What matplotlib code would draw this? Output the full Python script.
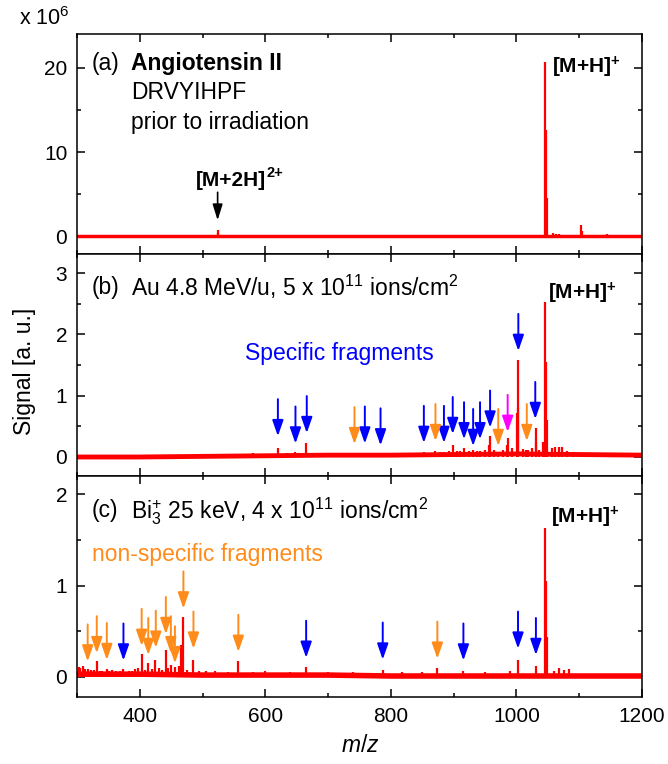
import matplotlib
matplotlib.use("Agg")
import matplotlib.pyplot as plt
from matplotlib.ticker import MultipleLocator

plt.rcParams['font.family'] = ['Liberation Sans', 'DejaVu Sans']
plt.rcParams['mathtext.fontset'] = 'custom'
plt.rcParams['mathtext.rm'] = 'Liberation Sans'
plt.rcParams['mathtext.it'] = 'Liberation Sans:italic'
plt.rcParams['mathtext.bf'] = 'Liberation Sans:bold'
plt.rcParams['mathtext.default'] = 'regular'

# ===== data =====
# baseline level of each spectrum (m/z grid)
base_mz = [300, 400, 500, 600, 700, 800, 900, 1000, 1100, 1200]
base_a = [0.0, 0.0, 0.0, 0.0, 0.0, 0.0, 0.0, 0.0, 0.0, 0.0]
base_b = [0.0, 0.0, 0.01, 0.02, 0.03, 0.03, 0.04, 0.05, 0.04, 0.03]
base_c = [0.03, 0.03, 0.02, 0.02, 0.02, 0.01, 0.01, 0.01, 0.01, 0.01]

# (a) prior to irradiation, x10^6
peaks_a_mz = [524, 525, 700, 820, 960, 1010, 1046, 1047, 1048, 1058, 1063, 1068, 1103, 1104, 1145]
peaks_a_h = [0.7, 0.35, 0.15, 0.1, 0.2, 0.2, 20.7, 12.6, 4.6, 0.4, 0.3, 0.25, 1.3, 0.6, 0.3]

# (b) Au 4.8 MeV/u
peaks_b_mz = [480, 520, 545, 560, 580, 600, 620.5, 635, 648, 665, 680, 700, 720, 743, 759, 770, 784,
              798, 810, 830, 845, 853, 860, 871, 878, 885, 892, 898.5, 905, 910, 916.5, 925, 931,
              937, 942, 950, 957, 958, 965, 971, 978, 985, 986, 993, 1000.5, 1002, 1003, 1010,
              1016, 1019, 1025, 1030.5, 1031.5, 1036, 1043, 1046, 1047, 1048, 1056, 1062, 1067,
              1072, 1080, 1090, 1100, 1110, 1130, 1150, 1170, 1190]
peaks_b_h = [0.04, 0.05, 0.05, 0.05, 0.06, 0.05, 0.15, 0.06, 0.08, 0.22, 0.06, 0.06, 0.05, 0.05, 0.07,
             0.06, 0.06, 0.06, 0.06, 0.06, 0.07, 0.08, 0.07, 0.09, 0.08, 0.08, 0.09, 0.2, 0.09, 0.1,
             0.14, 0.1, 0.12, 0.1, 0.1, 0.11, 0.2, 0.35, 0.12, 0.08, 0.12, 0.2, 0.31, 0.14, 0.72,
             1.58, 0.8, 0.13, 0.12, 0.12, 0.15, 0.47, 0.25, 0.12, 0.25, 2.53, 1.55, 0.6, 0.15,
             0.17, 0.16, 0.17, 0.1, 0.08, 0.07, 0.07, 0.06, 0.06, 0.05, 0.05]

# (c) Bi3+ 25 keV
peaks_c_mz = [303, 305, 310, 313, 317, 322, 327, 331.5, 336, 340, 347, 351, 355, 362, 368, 374, 383,
              388, 392, 397, 403, 408, 413.5, 420, 425, 431, 436, 441, 445, 450, 456, 462, 466,
              469.5, 476, 485, 495, 505, 520, 540, 557, 580, 600, 640, 665, 700, 740, 787, 817,
              850, 874, 915, 950, 990, 1002.5, 1031, 1046, 1047, 1048, 1060, 1068, 1075, 1083]
peaks_c_h = [0.11, 0.1, 0.12, 0.09, 0.09, 0.08, 0.08, 0.17, 0.07, 0.07, 0.09, 0.07, 0.08, 0.06, 0.07,
             0.09, 0.07, 0.06, 0.09, 0.1, 0.25, 0.08, 0.15, 0.09, 0.18, 0.1, 0.08, 0.30, 0.1, 0.13,
             0.11, 0.12, 0.35, 0.66, 0.08, 0.18, 0.07, 0.06, 0.06, 0.05, 0.17, 0.05, 0.06, 0.05,
             0.105, 0.05, 0.05, 0.08, 0.05, 0.05, 0.1, 0.06, 0.05, 0.06, 0.185, 0.12, 1.63, 1.05,
             0.44, 0.07, 0.1, 0.08, 0.09]

# arrows: m/z and height of the arrow tip
b_blue_mz = [620, 648, 666, 758.5, 783.5, 852.5, 884.5, 898.5, 916.5, 931, 942, 958, 1003, 1030]
b_blue_tip = [0.34, 0.22, 0.39, 0.22, 0.19, 0.23, 0.23, 0.375, 0.29, 0.18, 0.29, 0.48, 1.73, 0.62]
b_orange_mz = [742, 871, 971, 1016.5]
b_orange_tip = [0.21, 0.26, 0.18, 0.26]
b_magenta_mz = [986]
b_magenta_tip = [0.41]

c_orange_mz = [317, 331.5, 347.5, 403, 413.5, 425.5, 441.5, 449.5, 456, 469.5, 485.5, 557, 874]
c_orange_tip = [0.17, 0.26, 0.185, 0.34, 0.24, 0.32, 0.47, 0.26, 0.15, 0.75, 0.31, 0.275, 0.20]
c_blue_mz = [374, 665, 787, 915.5, 1002.5, 1031]
c_blue_tip = [0.18, 0.21, 0.19, 0.18, 0.31, 0.24]

RED = '#ff0000'
BLUE = '#0000ff'
ORANGE = '#ff8c1a'
MAGENTA = '#ff00ff'

fig = plt.figure(figsize=(6.68, 7.64), dpi=100)
L, W = 77 / 668, 565 / 668
ax_a = fig.add_axes([L, 1 - 254 / 764, W, 220 / 764])
ax_b = fig.add_axes([L, 1 - 476 / 764, W, 222 / 764])
ax_c = fig.add_axes([L, 1 - 697 / 764, W, 221 / 764])


def draw_spec(ax, base, mz, h, lw_base):
    ax.plot(base_mz, base, color=RED, lw=lw_base, solid_capstyle='butt', zorder=2)
    bl = [0.0] * len(mz)
    ax.vlines(mz, bl, h, color=RED, lw=1.6, zorder=2)


def arrows(ax, mz, tip, color, length=37):
    for x, y in zip(mz, tip):
        ax.annotate('', xy=(x, y), xytext=(0, length), textcoords='offset pixels',
                    arrowprops=dict(arrowstyle='-|>,head_length=0.8,head_width=0.28',
                                    color=color, lw=1.4, shrinkA=0, shrinkB=0,
                                    mutation_scale=12), zorder=3)


draw_spec(ax_a, base_a, peaks_a_mz, peaks_a_h, 2.5)
draw_spec(ax_b, base_b, peaks_b_mz, peaks_b_h, 3.5)
draw_spec(ax_c, base_c, peaks_c_mz, peaks_c_h, 4.0)

ax_a.set_ylim(-2.1, 24)
ax_b.set_ylim(-0.31, 3.31)
ax_c.set_ylim(-0.22, 2.2)
ax_a.yaxis.set_major_locator(MultipleLocator(10))
ax_a.yaxis.set_minor_locator(MultipleLocator(5))
for ax in (ax_b, ax_c):
    ax.yaxis.set_major_locator(MultipleLocator(1))
    ax.yaxis.set_minor_locator(MultipleLocator(0.5))

for ax in (ax_a, ax_b, ax_c):
    ax.set_xlim(300, 1200)
    ax.xaxis.set_major_locator(MultipleLocator(200))
    ax.xaxis.set_minor_locator(MultipleLocator(100))
    ax.tick_params(which='both', direction='in', top=True, right=True, width=1.1,
                   labelsize=15, pad=7)
    ax.tick_params(which='major', length=6)
    ax.tick_params(which='minor', length=3.2)
    for s in ax.spines.values():
        s.set_linewidth(1.1)
ax_a.tick_params(labelbottom=False)
ax_b.tick_params(labelbottom=False)

# panel (a) text
ax_a.text(0.0265, 0.864, '(a)', transform=ax_a.transAxes, fontsize=16.5, va='center')
ax_a.text(0.0956, 0.864, 'Angiotensin II', transform=ax_a.transAxes, fontsize=16.5,
          fontweight='bold', va='center')
ax_a.text(0.0956, 0.732, 'DRVYIHPF', transform=ax_a.transAxes, fontsize=16.5, va='center')
ax_a.text(0.0956, 0.600, 'prior to irradiation', transform=ax_a.transAxes, fontsize=16.5,
          va='center')
ax_a.text(0.84, 0.85, r'[M+H]$^{\mathbf{+}}$', transform=ax_a.transAxes, fontsize=15,
          fontweight='bold', va='center')
t2 = ax_a.text(0.21, 0.336, '[M+2H]', transform=ax_a.transAxes, fontsize=15,
               fontweight='bold', va='center')
ax_a.annotate('2+', xy=(1.0, 0.85), xycoords=t2, xytext=(0.5, 0), textcoords='offset points',
              fontsize=10.5, fontweight='bold', va='center', ha='left')
ax_a.annotate('', xy=(524, 1.9), xytext=(0, 28), textcoords='offset pixels',
              arrowprops=dict(arrowstyle='-|>,head_length=0.8,head_width=0.25', color='black',
                              lw=1.2, shrinkA=0, shrinkB=0, mutation_scale=12))

# panel (b) text
ax_b.text(0.0265, 0.85, '(b)', transform=ax_b.transAxes, fontsize=16.5, va='center')
ax_b.text(0.0956, 0.85, r'Au 4.8 MeV/u, 5 x 10$^{11}$ ions/cm$^{2}$', transform=ax_b.transAxes,
          fontsize=16.5, va='center')
ax_b.text(0.834, 0.824, r'[M+H]$^{\mathbf{+}}$', transform=ax_b.transAxes, fontsize=15,
          fontweight='bold', va='center')
ax_b.text(0.297, 0.554, 'Specific fragments', transform=ax_b.transAxes, fontsize=16.5,
          color=BLUE, va='center')
arrows(ax_b, b_blue_mz, b_blue_tip, BLUE)
arrows(ax_b, b_orange_mz, b_orange_tip, ORANGE)
arrows(ax_b, b_magenta_mz, b_magenta_tip, MAGENTA)

# panel (c) text
ax_c.text(0.0265, 0.842, '(c)', transform=ax_c.transAxes, fontsize=16.5, va='center')
ax_c.text(0.0956, 0.842, r'$\mathrm{Bi}_{3}^{+}$ 25 keV, 4 x 10$^{11}$ ions/cm$^{2}$',
          transform=ax_c.transAxes, fontsize=16.5, va='center')
ax_c.text(0.839, 0.814, r'[M+H]$^{\mathbf{+}}$', transform=ax_c.transAxes, fontsize=15,
          fontweight='bold', va='center')
ax_c.text(0.0265, 0.643, 'non-specific fragments', transform=ax_c.transAxes, fontsize=16.5,
          color=ORANGE, va='center')
arrows(ax_c, c_orange_mz, c_orange_tip, ORANGE)
arrows(ax_c, c_blue_mz, c_blue_tip, BLUE)

fig.text(0.028, 0.976, r'x 10$^{6}$', fontsize=15.5, va='center', ha='left')
fig.text(0.036, 0.514, 'Signal [a. u.]', fontsize=16.5, rotation=90, va='center', ha='center')
fig.text(360 / 668, 1 - 745 / 764, r'$\it{m/z}$', fontsize=16.5, va='center', ha='center')

fig.savefig('out.png', dpi=100)
